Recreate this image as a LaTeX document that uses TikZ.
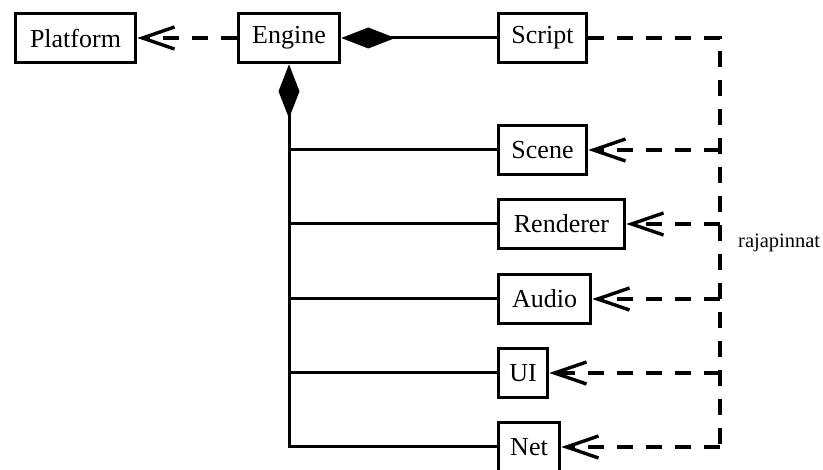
\documentclass[tikz,border=0pt]{standalone}
\usepackage{fontspec}
\setmainfont{Liberation Serif}
\usetikzlibrary{arrows.meta}
\begin{document}
\begin{tikzpicture}[x=1pt,y=-1pt,
  box/.style={draw,line width=3.6pt,minimum height=49pt,inner sep=0pt,
    font=\fontsize{26}{30}\selectfont},
  solid line/.style={line width=3pt},
  comp/.style={solid line,{Diamond[length=54pt,width=21pt]}-},
  dashline/.style={line width=3.4pt,dash pattern=on 16pt off 13pt},
  dep/.style={dashline,-{Straight Barb[length=32pt,width=22pt,line width=3.4pt]}}]
\useasboundingbox (0,0) rectangle (823,470);
\node[box,minimum width=120pt] (platform) at (75.5,38) {Platform};
\node[box,minimum width=101pt] (engine) at (289,38) {Engine};
\node[box,minimum width=88pt] (script) at (542.5,38) {Script};
\node[box,minimum width=88pt] (scene) at (542.5,150) {Scene};
\node[box,minimum width=126pt] (renderer) at (561.5,224) {Renderer};
\node[box,minimum width=92pt] (audio) at (544.5,299) {Audio};
\node[box,minimum width=49pt] (ui) at (523,373) {UI};
\node[box,minimum width=61pt] (net) at (529,447) {Net};
\node[anchor=base west,inner sep=0pt,font=\fontsize{20.5}{24}\selectfont] (lbl) at (738,248) {rajapinnat};
\coordinate (bt) at (720,38);
\coordinate (bb) at (720,447);
% composition
\draw[comp] (engine.east) -- (script.west);
\draw[comp] (engine.south) |- (net.west);
\draw[solid line] (engine.south |- scene.west) -- (scene.west);
\draw[solid line] (engine.south |- renderer.west) -- (renderer.west);
\draw[solid line] (engine.south |- audio.west) -- (audio.west);
\draw[solid line] (engine.south |- ui.west) -- (ui.west);
% dependencies
\draw[dep] (engine.west) -- (platform.east);
\draw[dashline] (script.east) -- (bt) -- (bb);
\draw[dep] (bb |- scene.east) -- (scene.east);
\draw[dep] (bb |- renderer.east) -- (renderer.east);
\draw[dep] (bb |- audio.east) -- (audio.east);
\draw[dep] (bb |- ui.east) -- (ui.east);
\draw[dep] (bb) -- (net.east);
\end{tikzpicture}
\end{document}
